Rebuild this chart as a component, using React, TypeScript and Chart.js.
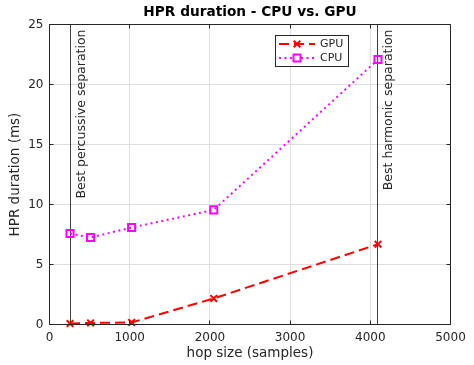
import React, { useEffect, useRef } from 'react';
import { Chart, registerables } from 'chart.js';

Chart.register(...registerables);

const hopSizes = [256, 512, 1024, 2048, 4096];
const gpuMs = [0.08, 0.13, 0.17, 2.17, 6.69];
const cpuMs = [7.58, 7.25, 8.08, 9.55, 22.08];
const xTicks = [0, 1000, 2000, 3000, 4000, 5000];
const yTicks = [0, 5, 10, 15, 20, 25];
const markerHops = [256, 4096];
const markerLabels = ['Best percussive separation', 'Best harmonic separation'];
const seriesNames = ['GPU', 'CPU'];

const FONT = '"DejaVu Sans", sans-serif';
const TEXT = '#262626';
const RED = '#ff0000';
const MAGENTA = '#ff00ff';

const decor = {
  id: 'matlabDecor',
  beforeDatasetsDraw(chart: any) {
    const { ctx, chartArea: a, scales } = chart;
    const x = scales.x;
    ctx.save();
    ctx.strokeStyle = '#404040';
    ctx.lineWidth = 1;
    markerHops.forEach((h, i) => {
      const px = Math.floor(x.getPixelForValue(h)) + 0.5;
      ctx.beginPath();
      ctx.moveTo(px, a.top);
      ctx.lineTo(px, a.bottom);
      ctx.stroke();
      ctx.save();
      ctx.translate(px + 11, a.top + 5);
      ctx.rotate(-Math.PI / 2);
      ctx.font = `12.5px ${FONT}`;
      ctx.fillStyle = TEXT;
      ctx.textAlign = 'right';
      ctx.textBaseline = 'middle';
      ctx.fillText(markerLabels[i], 0, 0);
      ctx.restore();
    });
    ctx.restore();
  },
  afterDraw(chart: any) {
    const { ctx, chartArea: a, scales } = chart;
    const x = scales.x;
    const y = scales.y;
    ctx.save();
    const L = Math.floor(a.left) + 0.5;
    const R = Math.floor(a.right) + 0.5;
    const T = Math.floor(a.top) + 0.5;
    const B = Math.floor(a.bottom) + 0.5;
    ctx.strokeStyle = TEXT;
    ctx.lineWidth = 1;
    ctx.beginPath();
    ctx.rect(L, T, R - L, B - T);
    ctx.stroke();
    const tl = 4;
    ctx.beginPath();
    xTicks.forEach((v) => {
      const px = Math.floor(x.getPixelForValue(v)) + 0.5;
      ctx.moveTo(px, B);
      ctx.lineTo(px, B - tl);
      ctx.moveTo(px, T);
      ctx.lineTo(px, T + tl);
    });
    yTicks.forEach((v) => {
      const py = Math.floor(y.getPixelForValue(v)) + 0.5;
      ctx.moveTo(L, py);
      ctx.lineTo(L + tl, py);
      ctx.moveTo(R, py);
      ctx.lineTo(R - tl, py);
    });
    ctx.stroke();

    // title
    ctx.font = `bold 13.7px ${FONT}`;
    ctx.fillStyle = '#000';
    ctx.textAlign = 'center';
    ctx.textBaseline = 'middle';
    ctx.fillText('HPR duration - CPU vs. GPU', (a.left + a.right) / 2, 12);

    // legend
    const lx = 275.5, ly = 35.5, lw = 73, lh = 31;
    ctx.fillStyle = '#fff';
    ctx.fillRect(lx, ly, lw, lh);
    ctx.strokeStyle = TEXT;
    ctx.lineWidth = 1;
    ctx.strokeRect(lx, ly, lw, lh);
    const rows = [ly + 8.5, ly + 22.5];
    ctx.lineWidth = 2;
    ctx.strokeStyle = RED;
    ctx.setLineDash([10, 5]);
    ctx.beginPath();
    ctx.moveTo(279, rows[0]);
    ctx.lineTo(315, rows[0]);
    ctx.stroke();
    ctx.setLineDash([]);
    const mx = 297, r = 3.3;
    ctx.beginPath();
    ctx.moveTo(mx - r, rows[0] - r);
    ctx.lineTo(mx + r, rows[0] + r);
    ctx.moveTo(mx - r, rows[0] + r);
    ctx.lineTo(mx + r, rows[0] - r);
    ctx.stroke();
    ctx.strokeStyle = MAGENTA;
    ctx.setLineDash([2, 3.5]);
    ctx.beginPath();
    ctx.moveTo(279, rows[1]);
    ctx.lineTo(315, rows[1]);
    ctx.stroke();
    ctx.setLineDash([]);
    ctx.fillStyle = '#fff';
    ctx.fillRect(mx - 3.5, rows[1] - 3.5, 7, 7);
    ctx.strokeRect(mx - 3.5, rows[1] - 3.5, 7, 7);
    ctx.font = `11px ${FONT}`;
    ctx.fillStyle = TEXT;
    ctx.textAlign = 'left';
    ctx.textBaseline = 'middle';
    ctx.fillText(seriesNames[0], 320, rows[0]);
    ctx.fillText(seriesNames[1], 320, rows[1]);
    ctx.restore();
  },
};

export default function App() {
  const ref = useRef<HTMLCanvasElement>(null);
  useEffect(() => {
    if (!ref.current) return;
    const chart = new Chart(ref.current, {
      type: 'line',
      data: {
        datasets: [
          {
            label: seriesNames[0],
            data: hopSizes.map((h, i) => ({ x: h, y: gpuMs[i] })),
            borderColor: RED,
            backgroundColor: RED,
            borderWidth: 2,
            borderDash: [10, 5],
            pointStyle: 'crossRot',
            pointRadius: 4.7,
            pointBorderWidth: 2,
            pointBorderColor: RED,
            pointBackgroundColor: RED,
            tension: 0,
            clip: false,
          } as any,
          {
            label: seriesNames[1],
            data: hopSizes.map((h, i) => ({ x: h, y: cpuMs[i] })),
            borderColor: MAGENTA,
            backgroundColor: 'rgba(0,0,0,0)',
            borderWidth: 2,
            borderDash: [2, 3.5],
            pointStyle: 'rect',
            pointRadius: 5,
            pointBorderWidth: 2,
            pointBorderColor: MAGENTA,
            pointBackgroundColor: 'rgba(0,0,0,0)',
            tension: 0,
            clip: false,
          } as any,
        ],
      },
      options: {
        responsive: false,
        maintainAspectRatio: false,
        animation: false,
        devicePixelRatio: 1,
        layout: { padding: { top: 24.5, right: 23.5, left: 0, bottom: 0 } },
        plugins: {
          legend: { display: false },
          title: { display: false },
          tooltip: { enabled: false },
        },
        scales: {
          x: {
            type: 'linear',
            min: 0,
            max: 5000,
            afterFit: (s: any) => {
              s.height = 40.5;
            },
            afterBuildTicks: (s: any) => {
              s.ticks = xTicks.map((v) => ({ value: v }));
            },
            ticks: {
              font: { family: FONT, size: 12 },
              color: TEXT,
              padding: 6,
              maxRotation: 0,
              callback: (v: any) => String(v),
            },
            grid: { color: '#dfdfdf', lineWidth: 1, drawTicks: false },
            border: { display: false },
            title: {
              display: true,
              text: 'hop size (samples)',
              font: { family: FONT, size: 13.5 },
              color: TEXT,
              padding: { top: 0, bottom: 3 },
            },
          },
          y: {
            type: 'linear',
            min: 0,
            max: 25,
            afterFit: (s: any) => {
              s.width = 49.5;
            },
            afterBuildTicks: (s: any) => {
              s.ticks = yTicks.map((v) => ({ value: v }));
            },
            ticks: {
              font: { family: FONT, size: 12 },
              color: TEXT,
              padding: 6,
              callback: (v: any) => String(v),
            },
            grid: { color: '#dfdfdf', lineWidth: 1, drawTicks: false },
            border: { display: false },
            title: {
              display: true,
              text: 'HPR duration (ms)',
              font: { family: FONT, size: 13.5 },
              color: TEXT,
              padding: { top: 7, bottom: 0 },
            },
          },
        },
      } as any,
      plugins: [decor],
    });
    return () => chart.destroy();
  }, []);
  return (
    <div style={{ position: 'absolute', left: 0, top: 0, width: 474, height: 365, background: '#fff' }}>
      <canvas ref={ref} width={474} height={365} style={{ display: 'block' }} />
    </div>
  );
}
